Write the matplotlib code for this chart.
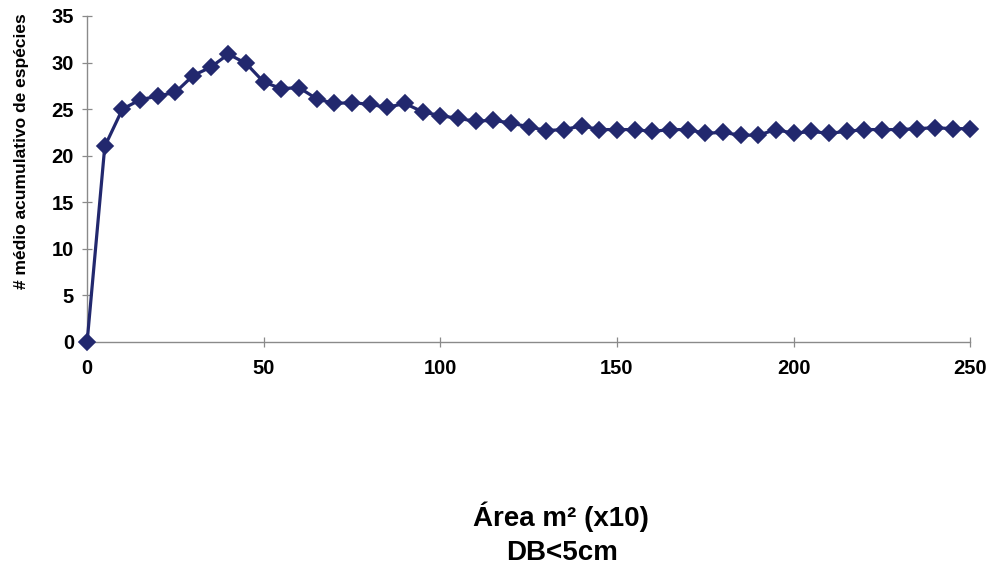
import matplotlib
matplotlib.use("Agg")
import matplotlib.pyplot as plt

area = list(range(0, 255, 5))
species = [0, 21, 25, 26, 26.4, 26.8, 28.6, 29.5, 30.9, 29.9,
           27.9, 27.2, 27.3, 26.1, 25.6, 25.7, 25.5, 25.2, 25.6, 24.7,
           24.3, 24.0, 23.7, 23.8, 23.5, 23.1, 22.7, 22.8, 23.2, 22.8,
           22.8, 22.8, 22.6, 22.8, 22.8, 22.4, 22.5, 22.2, 22.2, 22.8,
           22.4, 22.6, 22.4, 22.6, 22.8, 22.8, 22.8, 22.9, 23.0, 22.9, 22.9]
xticks = [0, 50, 100, 150, 200, 250]
yticks = [0, 5, 10, 15, 20, 25, 30, 35]

plt.rcParams['font.family'] = ['Liberation Sans', 'DejaVu Sans']

fig = plt.figure(figsize=(9.9, 5.69), dpi=100)
ax = fig.add_axes([0.088, 0.399, 0.892, 0.573])
ax.plot(area, species, color='#22286e', lw=2.3, marker='D', markersize=7.8,
        markeredgewidth=1.2, markeredgecolor='#22286e', markerfacecolor='#22286e',
        clip_on=False, zorder=3)
ax.set_xlim(0, 250)
ax.set_ylim(0, 35)
ax.set_xticks(xticks)
ax.set_yticks(yticks)
for s in ['top', 'right']:
    ax.spines[s].set_visible(False)
for s in ['left', 'bottom']:
    ax.spines[s].set_color('#8a8a8a')
    ax.spines[s].set_linewidth(1.0)
ax.tick_params(axis='both', direction='inout', length=7, width=0.9, color='#8a8a8a',
               labelsize=14.5)
ax.tick_params(axis='x', pad=9)
ax.tick_params(axis='y', pad=6)
for lab in ax.get_xticklabels() + ax.get_yticklabels():
    lab.set_fontweight('bold')
fig.text(0.022, 0.735, '# médio acumulativo de espécies', rotation=90,
         ha='center', va='center', fontsize=12.5, fontweight='bold')
fig.text(561 / 990, 1 - 526 / 569, 'Área m² (x10)', ha='center', va='baseline',
         fontsize=20, fontweight='bold')
fig.text(562 / 990, 1 - 560 / 569, 'DB<5cm', ha='center', va='baseline',
         fontsize=20, fontweight='bold')
fig.savefig('out.png', dpi=100)
